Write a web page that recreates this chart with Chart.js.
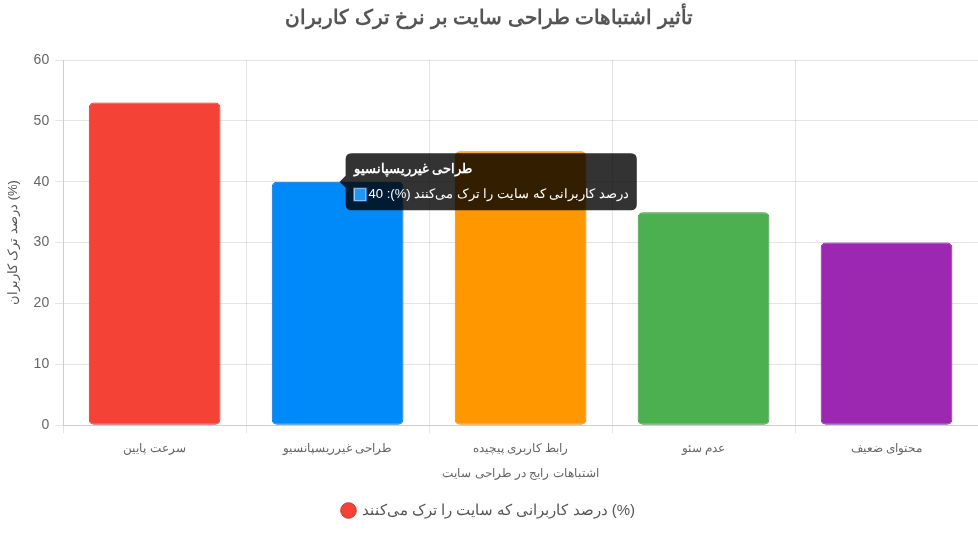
<!DOCTYPE html>
<html lang="fa">
<head>
<meta charset="utf-8">
<script src="https://cdn.jsdelivr.net/npm/chart.js@4.4.1/dist/chart.umd.min.js"></script>
<style>
html,body{margin:0;padding:0;background:#fff;}
#wrap{width:978px;height:533px;position:relative;}
</style>
</head>
<body>
<div id="wrap"><canvas id="c"></canvas></div>
<script>
const categories = ["سرعت پایین", "طراحی غیرریسپانسیو", "رابط کاربری پیچیده", "عدم سئو", "محتوای ضعیف"];
const values = [53, 40, 45, 35, 30];
const seriesLabel = "درصد کاربرانی که سایت را ترک می‌کنند (%)";
const barColors = ["#F44336", "#2196F3", "#FF9800", "#4CAF50", "#9C27B0"];
const barBorders = ["#D32F2F", "#1976D2", "#F57C00", "#388E3C", "#7B1FA2"];
const chartTitle = "تأثیر اشتباهات طراحی سایت بر نرخ ترک کاربران";
const xTitle = "اشتباهات رایج در طراحی سایت";
const yTitle = "درصد ترک کاربران (%)";

Chart.defaults.font.family = "'Liberation Sans', Arial, sans-serif";
Chart.defaults.color = "#666";

const chart = new Chart(document.getElementById('c'), {
  type: 'bar',
  data: {
    labels: categories,
    datasets: [{
      label: seriesLabel,
      data: values,
      backgroundColor: barColors,
      borderColor: barBorders,
      borderWidth: 1,
      borderRadius: 5,
      borderSkipped: false
    }]
  },
  options: {
    responsive: true,
    maintainAspectRatio: false,
    animation: false,
    layout: { padding: { left: 0, right: 0, top: 0, bottom: 5 } },
    scales: {
      y: {
        beginAtZero: true,
        max: 60,
        ticks: { stepSize: 10, font: { size: 14 }, color: '#666', padding: 6 },
        title: { display: true, text: yTitle, font: { size: 13 }, color: '#555', padding: { top: 6, bottom: 6 } }
      },
      x: {
        ticks: { font: { size: 12 }, color: '#666', padding: 8 },
        title: { display: true, text: xTitle, font: { size: 12 }, color: '#666', padding: { top: 3, bottom: 6 } }
      }
    },
    plugins: {
      title: {
        display: true,
        text: chartTitle,
        font: { size: 20, weight: 'bold' },
        color: '#555',
        padding: { top: 6, bottom: 30 }
      },
      legend: {
        position: 'bottom',
        labels: { usePointStyle: true, pointStyle: 'circle', boxWidth: 11, boxHeight: 11, font: { size: 15 }, color: '#555', padding: 16 }
      },
      tooltip: {
        textDirection: 'rtl',
        padding: 8,
        titleFont: { size: 13, weight: 'bold' },
        bodyFont: { size: 13 },
        titleMarginBottom: 10,
        cornerRadius: 6,
        caretSize: 6
      }
    }
  }
});

const act = [{ datasetIndex: 0, index: 1 }];
chart.setActiveElements(act);
chart.tooltip.setActiveElements(act, { x: 0, y: 0 });
chart.update();
</script>
</body>
</html>
